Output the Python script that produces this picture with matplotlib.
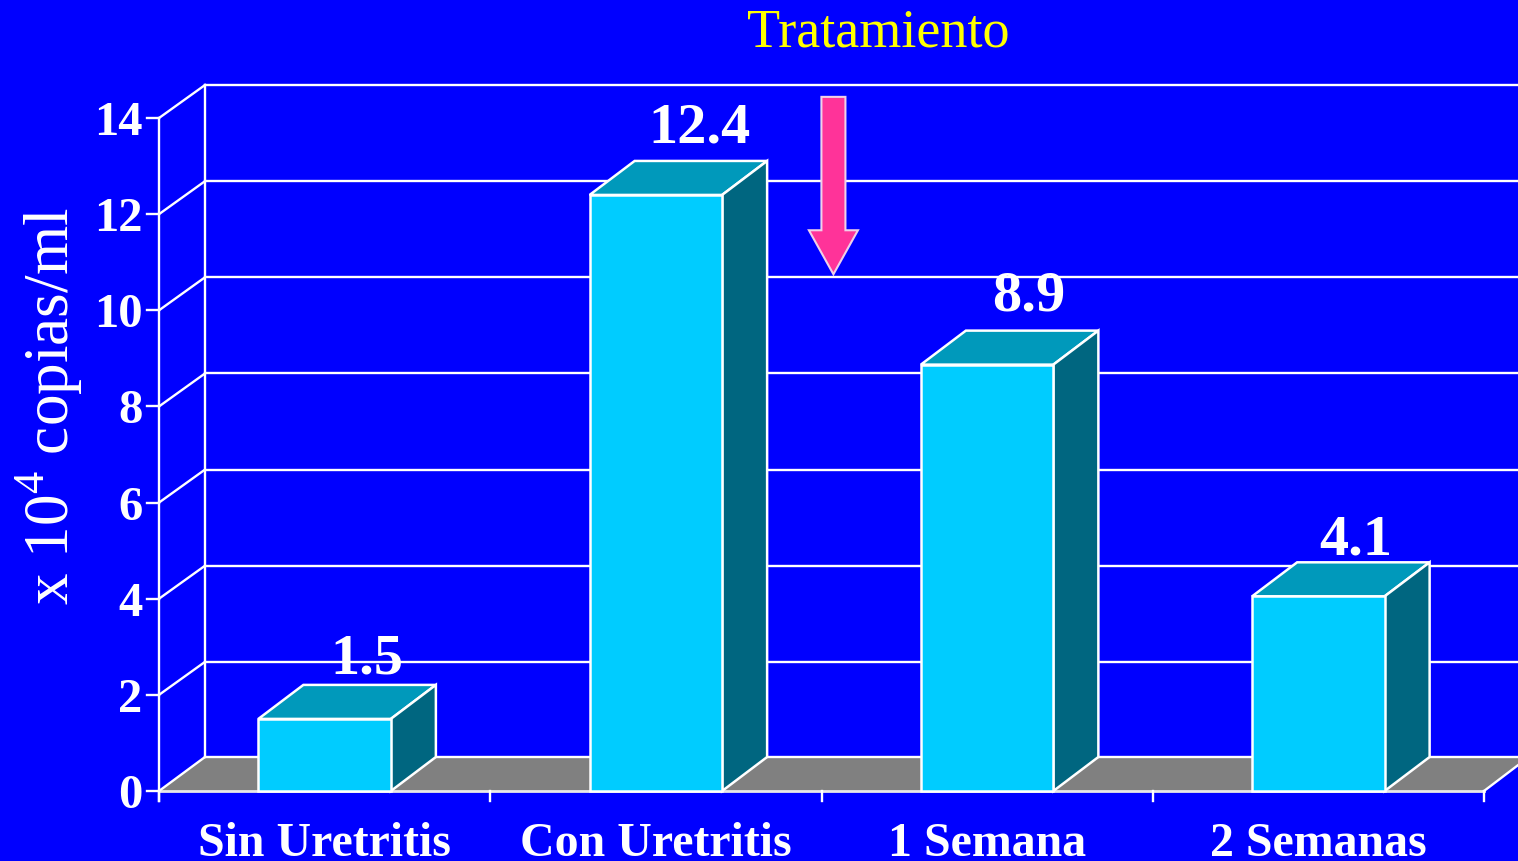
import matplotlib
matplotlib.use('Agg')
import matplotlib.pyplot as plt
from matplotlib.patches import Polygon, FancyArrow

plt.rcParams['font.family'] = ['Liberation Serif', 'DejaVu Serif']
plt.rcParams['mathtext.fontset'] = 'custom'
plt.rcParams['mathtext.rm'] = 'Liberation Serif'

# Data
categories = ['Sin Uretritis', 'Con Uretritis', '1 Semana', '2 Semanas']
values = [1.5, 12.4, 8.87, 4.05]
value_labels = ['1.5', '12.4', '8.9', '4.1']
y_ticks = [0, 2, 4, 6, 8, 10, 12, 14]

W, H = 1518, 861
X_PX = 331.25   # pixels per category
Y_PX = 48.07    # pixels per unit
X0, Y0 = 159, 791
DX = 45 / X_PX  # 3d depth in data units
DY = 34 / Y_PX
WALL_DX = 46 / X_PX
WALL_DY = 33 / Y_PX
BAR_W = 0.4
LW = 1.7

# nudges for the value labels, in pixels
label_dx = [-24, -23, -25, -29]
label_dy = [11, 18, 20, 8]

BG = '#0000FF'
WHITE = 'white'

fig = plt.figure(figsize=(W / 100, H / 100), dpi=100, facecolor=BG)
ax = fig.add_axes([0, 0, 1, 1])
ax.set_facecolor(BG)
ax.set_xlim(-X0 / X_PX, (W - X0) / X_PX)
ax.set_ylim((Y0 - H) / Y_PX, Y0 / Y_PX)
ax.axis('off')

n = len(categories)
x_right = ax.get_xlim()[1]

# floor
ax.add_patch(Polygon([(0, 0), (WALL_DX, DY), (x_right, DY), (x_right, DY * 0.76), (n, 0)],
                     closed=True, facecolor='#808080', edgecolor='none', zorder=1))
ax.plot([WALL_DX, x_right], [DY, DY], color=WHITE, lw=LW, zorder=2)
ax.plot([0, n], [0, 0], color='#E8E8E8', lw=2, zorder=2)
ax.plot([n, x_right], [0, DY * 0.76], color=WHITE, lw=LW, zorder=2)
ax.plot([0, WALL_DX], [0, DY], color=WHITE, lw=LW, zorder=2)

# walls and grid
for t in y_ticks:
    if t > 0:
        ax.plot([0, WALL_DX], [t, t + WALL_DY], color=WHITE, lw=LW, zorder=2)
        ax.plot([WALL_DX, x_right], [t + WALL_DY, t + WALL_DY], color=WHITE, lw=LW, zorder=2)
    ax.plot([-0.036, 0], [t, t], color=WHITE, lw=LW, zorder=2)
    ax.text(-0.05, t, str(t), color=WHITE, fontsize=35, fontweight='bold',
            ha='right', va='center_baseline')
ax.plot([0, 0], [-0.2, y_ticks[-1]], color=WHITE, lw=LW, zorder=2)
ax.plot([WALL_DX, WALL_DX], [DY, y_ticks[-1] + WALL_DY], color=WHITE, lw=LW, zorder=2)

# x ticks
for i in range(n + 1):
    ax.plot([i, i], [0, -0.2], color=WHITE, lw=LW, zorder=2)

# bars
for i, v in enumerate(values):
    left = i + 0.5 - BAR_W / 2
    right = left + BAR_W
    ax.bar(left, v, width=BAR_W, align='edge', color='#00CCFF',
           edgecolor=WHITE, linewidth=1.8, zorder=4)
    ax.add_patch(Polygon([(left, v), (left + DX, v + DY), (right + DX, v + DY), (right, v)],
                         closed=True, facecolor='#0099BB', edgecolor=WHITE, lw=1.8, zorder=3))
    ax.add_patch(Polygon([(right, 0), (right + DX, DY), (right + DX, v + DY), (right, v)],
                         closed=True, facecolor='#006680', edgecolor=WHITE, lw=1.8, zorder=3))
    ax.text(right + label_dx[i] / X_PX, v + DY + label_dy[i] / Y_PX, value_labels[i],
            color=WHITE, fontsize=42, fontweight='bold', ha='center', va='baseline', zorder=6)
    ax.text(i + 0.5, -1.36, categories[i], color=WHITE, fontsize=34.5, fontweight='bold',
            ha='center', va='baseline')

# arrow for the start of treatment
ax.add_patch(FancyArrow(2.036, 14.44, 0, -3.69, width=0.0725, head_width=0.148,
                        head_length=0.915, length_includes_head=True,
                        facecolor='#FF3399', edgecolor='#F0D0E8', lw=1.5, zorder=5))

ax.text(2.17, 15.77, 'Tratamiento', color='#FFFF00', fontsize=39, ha='center', va='center')
ax.text(-0.33, 8.0, r'x 10$^{4}$ copias/ml', color=WHITE, fontsize=45.5, rotation=90,
        ha='center', va='center')

fig.savefig('out.png', dpi=100, facecolor=BG)
